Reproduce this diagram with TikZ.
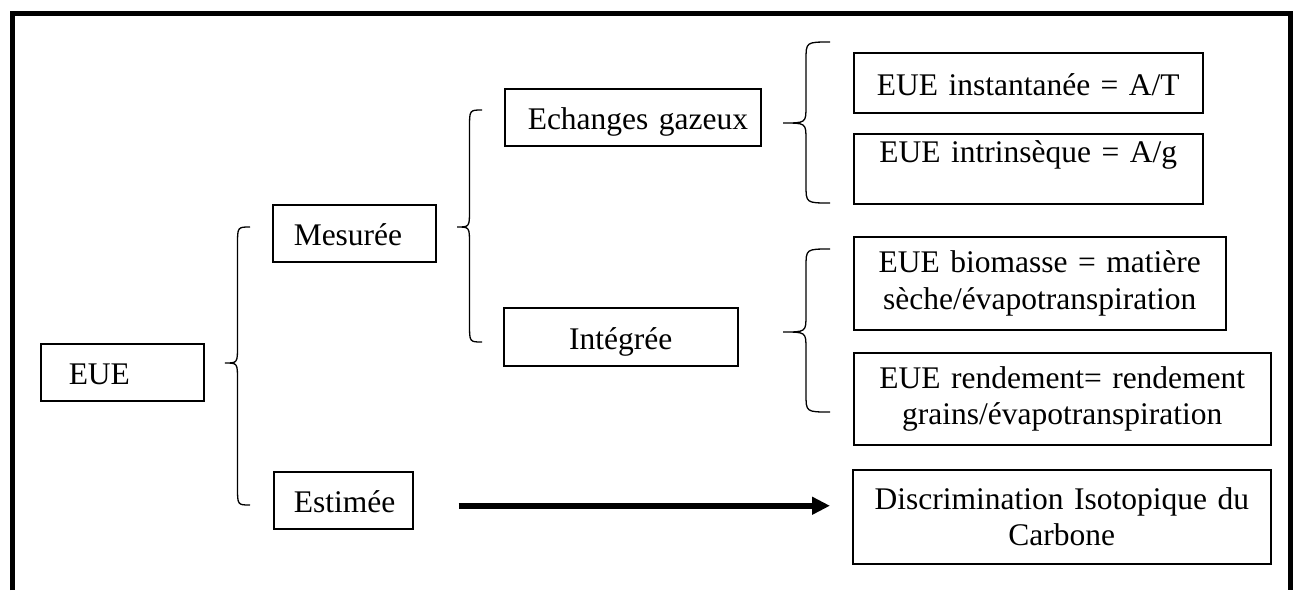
\documentclass[tikz,border=0pt]{standalone}
\usepackage{fontspec}
\setmainfont{Liberation Serif}
\usetikzlibrary{arrows.meta}
\tikzset{
  lbl/.style={draw, line width=1.5pt, anchor=north west, inner xsep=5pt, inner ysep=0pt,
    font=\fontsize{31.5pt}{36.5pt}\selectfont},
  one/.style={text height=25pt, text depth=0pt},
  brc/.style={line width=1.3pt},
  frame/.style={line width=5pt, line join=miter},
  bigarrow/.style={line width=6pt, -{Triangle[length=18pt,width=17pt]}}
}
% #1 tip x, #2 stem x, #3 end x, #4 top y, #5 tip y, #6 bottom y
\newcommand{\curlybrace}[6]{%
  \draw[brc] (#3,#4) .. controls (#2,#4) .. (#2,#4+18) -- (#2,#5-17)
    .. controls (#2,#5) .. (#1,#5) .. controls (#2,#5) .. (#2,#5+17)
    -- (#2,#6-18) .. controls (#2,#6) .. (#3,#6);}
\begin{document}
\begin{tikzpicture}[x=1pt,y=-1pt]
\useasboundingbox (0,0) rectangle (1295,590);
\draw[frame] (12.5,590) -- (12.5,13.5) -- (1290,13.5) -- (1290,590);

\node[lbl, one, text width=153pt, align=left, minimum height=57pt] (eue) at (40,343) {\hspace*{23pt}EUE};
\node[lbl, one, text width=153pt, align=left, minimum height=57pt] (mes) at (272,204) {\hspace*{16pt}Mesurée};
\node[lbl, one, text width=129pt, align=left, minimum height=57pt] (est) at (273,471) {\hspace*{15pt}Estimée};
\node[lbl, one, text width=246pt, align=left, minimum height=57pt] (ech) at (504,88) {\hspace*{18pt}Echanges gazeux};
\node[lbl, one, text width=224pt, align=center, minimum height=58pt] (int) at (503,307) {Intégrée};
\node[lbl, one, text width=339pt, align=center, minimum height=60pt] (inst) at (853,52) {EUE instantanée = A/T};
\node[lbl, text height=25pt, text depth=37pt, text width=339pt, align=center, minimum height=70pt] (intr) at (853,133) {EUE intrinsèque = A/g};
\node[lbl, text width=362pt, align=center, minimum height=93pt] (bio) at (853,236) {EUE biomasse = matière\\sèche/évapotranspiration};
\node[lbl, text width=407pt, align=center, minimum height=92pt] (ren) at (853,352) {EUE rendement= rendement\\grains/évapotranspiration};
\node[lbl, text width=408pt, align=center, minimum height=94pt] (disc) at (852,469) {Discrimination Isotopique du\\Carbone};

\curlybrace{225}{237.5}{250}{227}{363}{505}
\curlybrace{457}{469.5}{482}{110}{227}{342}
\curlybrace{783}{806}{830}{42}{123}{203}
\curlybrace{783}{806}{830}{249}{332}{412}

\draw[bigarrow] ([xshift=45pt,yshift=-5.5pt]est.east) -- ([xshift=-22pt,yshift=-5.5pt]disc.west |- est.east);
\end{tikzpicture}
\end{document}
